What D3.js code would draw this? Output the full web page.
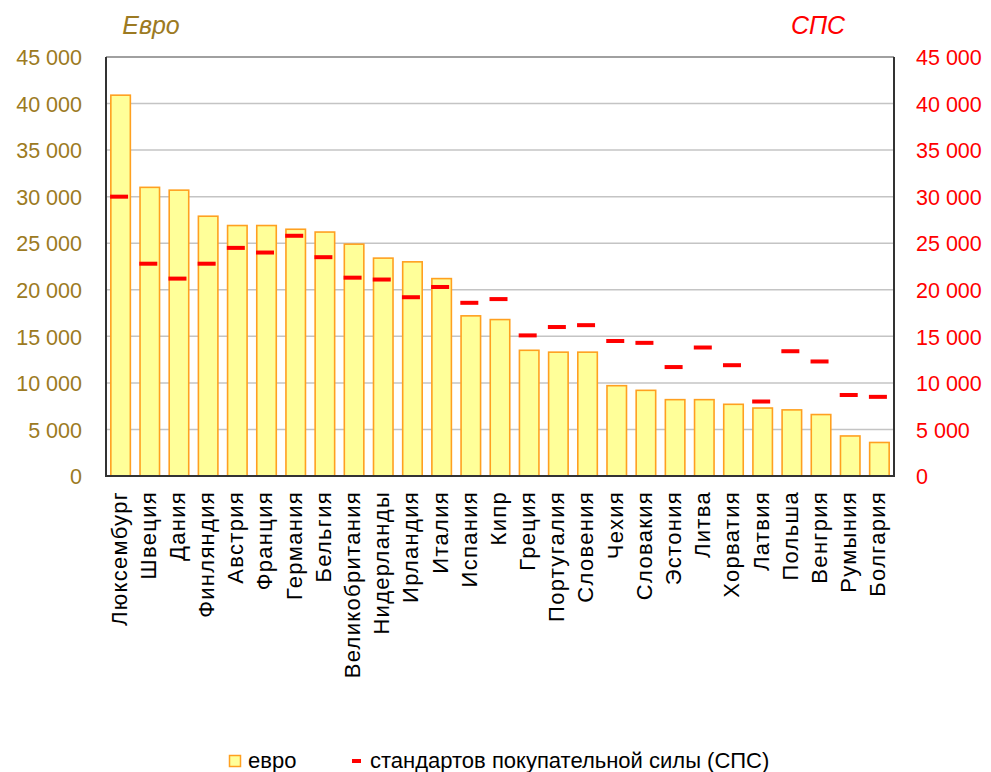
<!DOCTYPE html>
<html>
<head>
<meta charset="utf-8">
<script src="https://cdn.jsdelivr.net/npm/d3@7"></script>
<style>
  html, body { margin: 0; padding: 0; background: #fff; }
  svg { display: block; font-family: Arial, "Liberation Sans", sans-serif; }
</style>
</head>
<body>
<svg id="chart" width="991" height="772"></svg>
<script>
const categories = ["Люксембург","Швеция","Дания","Финляндия","Австрия","Франция","Германия","Бельгия","Великобритания","Нидерланды","Ирландия","Италия","Испания","Кипр","Греция","Португалия","Словения","Чехия","Словакия","Эстония","Литва","Хорватия","Латвия","Польша","Венгрия","Румыния","Болгария"];
const euroValues = [40900,31000,30700,27900,26900,26900,26500,26200,24900,23400,23000,21200,17200,16800,13500,13300,13300,9700,9200,8200,8200,7700,7300,7100,6600,4300,3600];
const ppsValues = [30000,22800,21200,22800,24500,24000,25800,23500,21300,21100,19200,20300,18600,19000,15100,16000,16200,14500,14300,11700,13800,11900,8000,13400,12300,8700,8500];
const tickValues = [0,5000,10000,15000,20000,25000,30000,35000,40000,45000];
const leftTitle = "Евро";
const rightTitle = "СПС";
const legendLabels = ["евро", "стандартов покупательной силы (СПС)"];

const gold = "#9c7a22";
const red = "#ff0000";
const barFill = "#ffff99";
const barStroke = "#ffa020";

const svg = d3.select("#chart");
const m = {left: 106, right: 894, top: 57, bottom: 476};

const x = d3.scaleBand().domain(categories).range([m.left, m.right])
  .paddingInner(0.28).paddingOuter(0.14);
const yL = d3.scaleLinear().domain([0,45000]).range([m.bottom, m.top]);
const yR = d3.scaleLinear().domain([0,45000]).range([m.bottom, m.top]);

const fmt = v => d3.format(",")(v).replace(/,/g, " ");

// gridlines
svg.append("g").selectAll("line").data(tickValues.filter(v => v > 0 && v < 45000)).join("line")
  .attr("x1", m.left).attr("x2", m.right)
  .attr("y1", d => yL(d)).attr("y2", d => yL(d))
  .attr("stroke", "#c4c4c4").attr("stroke-width", 1.5);

// bars
svg.append("g").selectAll("rect").data(categories).join("rect")
  .attr("x", d => x(d) + 0.75)
  .attr("width", x.bandwidth() - 1.5)
  .attr("y", (d,i) => yL(euroValues[i]))
  .attr("height", (d,i) => m.bottom - yL(euroValues[i]))
  .attr("fill", barFill).attr("stroke", barStroke).attr("stroke-width", 1.6);

// frame
svg.append("line").attr("x1", m.left).attr("x2", m.right).attr("y1", m.top).attr("y2", m.top)
  .attr("stroke", "#808080").attr("stroke-width", 1.5);
svg.append("line").attr("x1", m.right).attr("x2", m.right).attr("y1", m.top).attr("y2", m.bottom)
  .attr("stroke", "#333").attr("stroke-width", 2);
svg.append("line").attr("x1", m.left).attr("x2", m.left).attr("y1", m.top).attr("y2", m.bottom + 1)
  .attr("stroke", "#333").attr("stroke-width", 2);
svg.append("line").attr("x1", m.left).attr("x2", m.right + 1).attr("y1", m.bottom).attr("y2", m.bottom)
  .attr("stroke", "#333").attr("stroke-width", 2);

// PPS dashes
svg.append("g").selectAll("rect").data(categories).join("rect")
  .attr("x", d => x(d) + x.bandwidth()/2 - 10.5)
  .attr("width", 18)
  .attr("y", (d,i) => yR(ppsValues[i]) - 2)
  .attr("height", 4)
  .attr("fill", red);

// left axis
const gl = svg.append("g").attr("transform", `translate(82,0)`)
  .call(d3.axisLeft(yL).tickValues(tickValues).tickFormat(fmt).tickSize(0).tickPadding(0));
gl.select(".domain").remove();
gl.selectAll("text").attr("fill", gold).style("font-size", "21.5px").attr("dy", "0.36em");

// right axis
const gr = svg.append("g").attr("transform", `translate(916,0)`)
  .call(d3.axisRight(yR).tickValues(tickValues).tickFormat(fmt).tickSize(0).tickPadding(0));
gr.select(".domain").remove();
gr.selectAll("text").attr("fill", red).style("font-size", "21.5px").attr("dy", "0.36em");

// category labels
svg.append("g").selectAll("text").data(categories).join("text")
  .attr("transform", d => `translate(${x(d) + x.bandwidth()/2 - 2},491) rotate(-90)`)
  .attr("text-anchor", "end").attr("dy", "0.36em")
  .style("font-size", "22px").style("letter-spacing", "1.3px")
  .attr("fill", "#000")
  .text(d => d);

// titles
svg.append("text").attr("x", 151).attr("y", 34).attr("text-anchor", "middle")
  .style("font-size", "25px").style("font-style", "italic").attr("fill", gold).text(leftTitle);
svg.append("text").attr("x", 818).attr("y", 34).attr("text-anchor", "middle")
  .style("font-size", "25px").style("font-style", "italic").attr("fill", red).text(rightTitle);

// legend
const lg = svg.append("g");
lg.append("rect").attr("x", 229.5).attr("y", 755.5).attr("width", 11).attr("height", 11)
  .attr("fill", barFill).attr("stroke", barStroke).attr("stroke-width", 1.5);
lg.append("text").attr("x", 248).attr("y", 768).style("font-size", "22px").attr("fill", "#000").text(legendLabels[0]);
lg.append("rect").attr("x", 352).attr("y", 759).attr("width", 9).attr("height", 4).attr("fill", red);
lg.append("text").attr("x", 370).attr("y", 768).style("font-size", "22px").attr("fill", "#000").text(legendLabels[1]);
</script>
</body>
</html>
